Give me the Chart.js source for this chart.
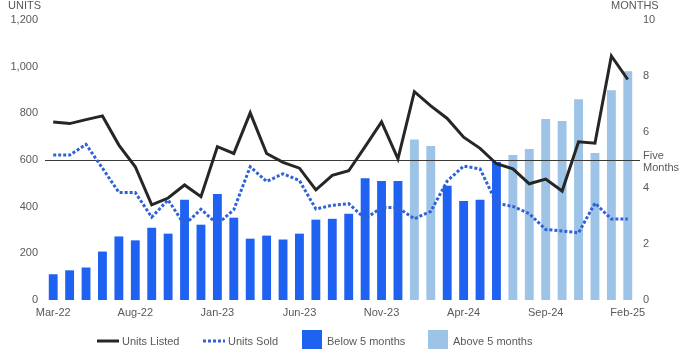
<!DOCTYPE html>
<html>
<head>
<meta charset="utf-8">
<script src="https://cdn.jsdelivr.net/npm/chart.js@4.4.1/dist/chart.umd.min.js"></script>
<style>
  html, body { margin: 0; padding: 0; background: #fff; }
  #wrap { position: relative; width: 700px; height: 350px; font-family: "Liberation Sans", Arial, sans-serif; }
  #c { position: absolute; left: 0; top: 0; }
  .lg { position: absolute; font-size: 11px; line-height: 12px; color: #595959; white-space: nowrap; }
  .sw { position: absolute; }
</style>
</head>
<body>
<div id="wrap">
  <canvas id="c" width="700" height="350"></canvas>
  <div id="legend"></div>
</div>
<script>
// Monthly categories, March 2022 to February 2025
const categories = [
  'Mar-22','Apr-22','May-22','Jun-22','Jul-22','Aug-22','Sep-22','Oct-22','Nov-22','Dec-22',
  'Jan-23','Feb-23','Mar-23','Apr-23','May-23','Jun-23','Jul-23','Aug-23','Sep-23','Oct-23',
  'Nov-23','Dec-23','Jan-24','Feb-24','Mar-24','Apr-24','May-24','Jun-24','Jul-24','Aug-24',
  'Sep-24','Oct-24','Nov-24','Dec-24','Jan-25','Feb-25'
];

// Units listed (left axis)
const unitsListed = [
  763, 756, 773, 789, 664, 571, 408, 437, 493, 443,
  657, 628, 802, 628, 590, 565, 472, 534, 554, 657,
  763, 605, 893, 832, 778, 698, 650, 584, 562, 498,
  518, 467, 678, 672, 1046, 945
];

// Units sold (left axis)
const unitsSold = [
  621, 621, 667, 565, 461, 461, 355, 429, 322, 389,
  325, 387, 571, 508, 541, 512, 390, 406, 413, 348,
  396, 396, 348, 380, 510, 574, 562, 415, 401, 370,
  302, 296, 288, 415, 347, 347
];

// Months of supply (right axis)
const monthsOfSupply = [
  0.92, 1.06, 1.16, 1.73, 2.27, 2.13, 2.58, 2.37, 3.58, 2.69,
  3.79, 2.94, 2.19, 2.30, 2.16, 2.37, 2.87, 2.90, 3.08, 4.35,
  4.25, 4.25, 5.73, 5.50, 4.08, 3.54, 3.58, 4.93, 5.18, 5.39,
  6.46, 6.39, 7.17, 5.25, 7.49, 8.17
];

const unitTicks = { min: 0, max: 1200, step: 200 };
const monthTicks = { min: 0, max: 10, step: 2 };
const fiveMonths = 5;

const belowFive = monthsOfSupply.map(v => (v < fiveMonths ? v : null));
const aboveFive = monthsOfSupply.map(v => (v >= fiveMonths ? v : null));

const labelColor = '#595959';
const tickFont = { family: '"Liberation Sans", Arial, sans-serif', size: 11 };

const colors = {
  listed: '#262626',
  sold: '#2f62d6',
  below: '#1f62f2',
  above: '#9dc3e6'
};

// Five-month reference line plus axis titles
const annotations = {
  id: 'annotations',
  afterDatasetDraw(chart, args) {
    if (chart.data.datasets[args.index].label !== 'Above 5 months') return;
    const { ctx, chartArea } = chart;
    const y = Math.round(chart.scales.y1.getPixelForValue(fiveMonths)) + 0.5;
    ctx.save();
    ctx.strokeStyle = '#3a3a3a';
    ctx.lineWidth = 1;
    ctx.beginPath();
    ctx.moveTo(chartArea.left, y);
    ctx.lineTo(chartArea.right + 4, y);
    ctx.stroke();
    ctx.restore();
  },
  afterDraw(chart) {
    const { ctx, chartArea } = chart;
    const y = chart.scales.y1.getPixelForValue(fiveMonths);
    ctx.save();
    ctx.fillStyle = labelColor;
    ctx.font = '11px "Liberation Sans", Arial, sans-serif';
    ctx.textBaseline = 'alphabetic';
    ctx.textAlign = 'left';
    ctx.fillText('UNITS', 8, 9);
    ctx.fillText('MONTHS', 611, 9);
    ctx.fillText('Five', chartArea.right + 7, y - 1.5);
    ctx.fillText('Months', chartArea.right + 7, y + 11);
    ctx.restore();
  }
};

new Chart(document.getElementById('c'), {
  type: 'bar',
  data: {
    labels: categories,
    datasets: [
      {
        type: 'line', label: 'Units Listed', data: unitsListed, yAxisID: 'y',
        borderColor: colors.listed, borderWidth: 3, pointRadius: 0, tension: 0,
        fill: false, order: 0
      },
      {
        type: 'line', label: 'Units Sold', data: unitsSold, yAxisID: 'y',
        borderColor: colors.sold, borderWidth: 3, borderDash: [3, 2], pointRadius: 0,
        tension: 0, fill: false, order: 1
      },
      {
        type: 'bar', label: 'Below 5 months', data: belowFive, yAxisID: 'y1',
        backgroundColor: colors.below, grouped: false,
        barPercentage: 0.54, categoryPercentage: 1, order: 3
      },
      {
        type: 'bar', label: 'Above 5 months', data: aboveFive, yAxisID: 'y1',
        backgroundColor: colors.above, grouped: false,
        barPercentage: 0.54, categoryPercentage: 1, order: 2
      }
    ]
  },
  options: {
    responsive: false,
    animation: false,
    devicePixelRatio: 1,
    layout: { padding: { top: 20, left: 0, right: 0, bottom: 0 } },
    plugins: { legend: { display: false }, tooltip: { enabled: false } },
    scales: {
      x: {
        offset: true,
        grid: { display: false, drawTicks: false },
        border: { display: false },
        ticks: {
          autoSkip: false, maxRotation: 0, minRotation: 0, padding: 6,
          color: labelColor, font: tickFont,
          callback: (v, i) => (i % 5 === 0 ? categories[i] : '')
        },
        afterFit: s => { s.height = 50; }
      },
      y: {
        position: 'left',
        min: unitTicks.min, max: unitTicks.max,
        grid: { display: false, drawTicks: false },
        border: { display: false },
        ticks: { stepSize: unitTicks.step, padding: 7, color: labelColor, font: tickFont },
        afterFit: s => { s.width = 45; }
      },
      y1: {
        position: 'right',
        min: monthTicks.min, max: monthTicks.max,
        grid: { display: false, drawTicks: false },
        border: { display: false },
        ticks: { stepSize: monthTicks.step, padding: 7, color: labelColor, font: tickFont },
        afterFit: s => { s.width = 64; }
      }
    }
  },
  plugins: [annotations]
});

// Legend row beneath the plot
const legendItems = [
  { kind: 'line', color: colors.listed, swatchX: 97, textX: 122, text: 'Units Listed' },
  { kind: 'dots', color: colors.sold, swatchX: 203, textX: 228, text: 'Units Sold' },
  { kind: 'box', color: colors.below, swatchX: 302, textX: 327, text: 'Below 5 months' },
  { kind: 'box', color: colors.above, swatchX: 428, textX: 453, text: 'Above 5 months' }
];
const legend = document.getElementById('legend');
legendItems.forEach(item => {
  let sw;
  if (item.kind === 'box') {
    sw = document.createElement('div');
    sw.className = 'sw';
    sw.style.cssText = `left:${item.swatchX}px;top:330px;width:20px;height:19px;background:${item.color};`;
  } else {
    sw = document.createElementNS('http://www.w3.org/2000/svg', 'svg');
    sw.setAttribute('width', '22');
    sw.setAttribute('height', '6');
    sw.setAttribute('class', 'sw');
    sw.style.left = item.swatchX + 'px';
    sw.style.top = '338px';
    const ln = document.createElementNS('http://www.w3.org/2000/svg', 'line');
    ln.setAttribute('x1', '0'); ln.setAttribute('y1', '3');
    ln.setAttribute('x2', '22'); ln.setAttribute('y2', '3');
    ln.setAttribute('stroke', item.color);
    ln.setAttribute('stroke-width', '3');
    if (item.kind === 'dots') ln.setAttribute('stroke-dasharray', '3 2');
    sw.appendChild(ln);
  }
  legend.appendChild(sw);
  const t = document.createElement('div');
  t.className = 'lg';
  t.style.left = item.textX + 'px';
  t.style.top = '335px';
  t.textContent = item.text;
  legend.appendChild(t);
});
</script>
</body>
</html>
